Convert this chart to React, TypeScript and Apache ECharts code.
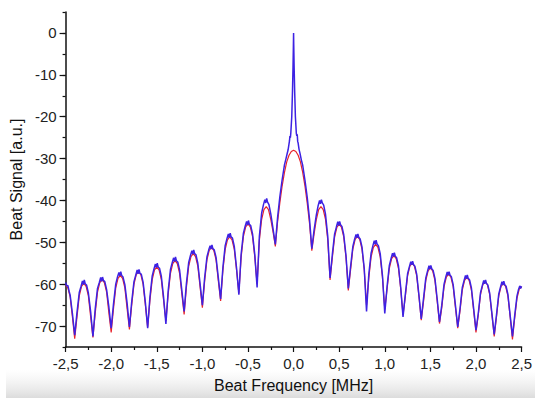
import React, { useEffect, useRef } from "react";
import * as echarts from "echarts";

// Fitted (red) curve: [frequency MHz, signal a.u.]
const fitTrace: [number, number][] = [
  [-2.5, -60.2], [-2.475, -60.9], [-2.45, -63.0], [-2.425, -67.8], [-2.4, -73.0],
  [-2.375, -67.8], [-2.35, -62.8], [-2.325, -60.5], [-2.3, -59.8], [-2.275, -60.5], [-2.25, -62.8], [-2.225, -67.8], [-2.2, -72.7],
  [-2.175, -66.9], [-2.15, -61.9], [-2.125, -59.6], [-2.1, -58.9], [-2.075, -59.6], [-2.05, -61.9], [-2.025, -66.9], [-2.0, -71.5],
  [-1.975, -65.9], [-1.95, -60.9], [-1.925, -58.6], [-1.9, -57.9], [-1.875, -58.6], [-1.85, -60.9], [-1.825, -65.9], [-1.8, -70.8],
  [-1.775, -65.0], [-1.75, -60.0], [-1.725, -57.7], [-1.7, -57.0], [-1.675, -57.7], [-1.65, -60.0], [-1.625, -65.0], [-1.6, -70.3],
  [-1.575, -63.9], [-1.55, -58.9], [-1.525, -56.6], [-1.5, -55.9], [-1.475, -56.6], [-1.45, -58.9], [-1.425, -63.9], [-1.4, -68.8],
  [-1.375, -62.4], [-1.35, -57.4], [-1.325, -55.1], [-1.3, -54.4], [-1.275, -55.1], [-1.25, -57.4], [-1.225, -62.4], [-1.2, -67.2],
  [-1.175, -60.7], [-1.15, -55.7], [-1.125, -53.4], [-1.1, -52.7], [-1.075, -53.4], [-1.05, -55.7], [-1.025, -60.7], [-1.0, -65.6],
  [-0.975, -59.2], [-0.95, -54.2], [-0.925, -51.9], [-0.9, -51.2], [-0.875, -51.9], [-0.85, -54.2], [-0.825, -59.2], [-0.8, -64.0],
  [-0.775, -56.7], [-0.75, -51.7], [-0.725, -49.4], [-0.7, -48.7], [-0.675, -49.4], [-0.65, -51.7], [-0.625, -56.7], [-0.6, -62.2],
  [-0.575, -53.6], [-0.55, -48.6], [-0.525, -46.3], [-0.5, -45.6], [-0.475, -46.3], [-0.45, -48.6], [-0.425, -53.6], [-0.4, -60.0],
  [-0.375, -49.5], [-0.35, -44.5], [-0.325, -42.2], [-0.3, -41.5], [-0.275, -42.2], [-0.25, -44.5], [-0.225, -47.5], [-0.2, -51.0],
  [-0.175, -45.0], [-0.15, -40.5], [-0.125, -36.5], [-0.1, -33.3], [-0.075, -30.8], [-0.05, -29.2], [-0.025, -28.3], [0, -28.0],
  [0.025, -28.3], [0.05, -29.2], [0.075, -30.8], [0.1, -33.3], [0.125, -36.6], [0.15, -40.7], [0.175, -45.5], [0.2, -52.0],
  [0.225, -48.0], [0.25, -44.5], [0.275, -42.2], [0.3, -41.5], [0.325, -42.2], [0.35, -44.5], [0.375, -49.5], [0.4, -59.0],
  [0.425, -53.7], [0.45, -48.7], [0.475, -46.4], [0.5, -45.7], [0.525, -46.4], [0.55, -48.7], [0.575, -53.7], [0.6, -61.5],
  [0.625, -56.6], [0.65, -51.6], [0.675, -49.3], [0.7, -48.6], [0.725, -49.3], [0.75, -51.6], [0.775, -56.6], [0.8, -65.0],
  [0.825, -58.5], [0.85, -53.5], [0.875, -51.2], [0.9, -50.5], [0.925, -51.2], [0.95, -53.5], [0.975, -58.5], [1.0, -66.0],
  [1.025, -61.2], [1.05, -56.2], [1.075, -53.9], [1.1, -53.2], [1.125, -53.9], [1.15, -56.2], [1.175, -61.2], [1.2, -67.4],
  [1.225, -63.0], [1.25, -58.0], [1.275, -55.7], [1.3, -55.0], [1.325, -55.7], [1.35, -58.0], [1.375, -63.0], [1.4, -68.6],
  [1.425, -64.1], [1.45, -59.1], [1.475, -56.8], [1.5, -56.1], [1.525, -56.8], [1.55, -59.1], [1.575, -64.1], [1.6, -69.4],
  [1.625, -65.6], [1.65, -60.6], [1.675, -58.3], [1.7, -57.6], [1.725, -58.3], [1.75, -60.6], [1.775, -65.6], [1.8, -70.5],
  [1.825, -66.4], [1.85, -61.4], [1.875, -59.1], [1.9, -58.4], [1.925, -59.1], [1.95, -61.4], [1.975, -66.4], [2.0, -71.5],
  [2.025, -67.4], [2.05, -62.4], [2.075, -60.1], [2.1, -59.4], [2.125, -60.1], [2.15, -62.4], [2.175, -67.4], [2.2, -72.5],
  [2.225, -67.8], [2.25, -62.8], [2.275, -60.5], [2.3, -59.8], [2.325, -60.5], [2.35, -62.8], [2.375, -67.8], [2.4, -73.2],
  [2.425, -68.0], [2.45, -63.3], [2.475, -61.1], [2.5, -60.6],
];

// Measured (blue) beat signal: [frequency MHz, signal a.u.]
const measuredTrace: [number, number][] = [
  [-2.5, -59.6], [-2.49, -60.4], [-2.475, -60.3], [-2.46, -61.8], [-2.45, -62.6], [-2.425, -67.0], [-2.4, -72.2],
  [-2.375, -66.8], [-2.35, -62.0], [-2.33, -60.5], [-2.315, -59.2], [-2.305, -60.1], [-2.295, -59.0], [-2.285, -59.9], [-2.27, -60.2], [-2.25, -62.1], [-2.225, -66.6], [-2.2, -72.5],
  [-2.175, -65.9], [-2.15, -61.0], [-2.13, -59.6], [-2.115, -58.4], [-2.105, -59.3], [-2.095, -58.3], [-2.085, -59.1], [-2.07, -59.4], [-2.05, -61.3], [-2.025, -65.5], [-2.0, -70.5],
  [-1.975, -64.8], [-1.95, -60.0], [-1.93, -58.2], [-1.915, -57.2], [-1.905, -58.0], [-1.895, -57.0], [-1.885, -57.9], [-1.87, -58.3], [-1.85, -60.1], [-1.825, -64.6], [-1.8, -70.2],
  [-1.775, -64.2], [-1.75, -59.4], [-1.73, -57.8], [-1.715, -56.6], [-1.705, -57.5], [-1.695, -56.5], [-1.685, -57.4], [-1.67, -57.6], [-1.65, -59.5], [-1.625, -64.4], [-1.6, -70.5],
  [-1.575, -63.0], [-1.55, -58.0], [-1.53, -56.3], [-1.515, -55.2], [-1.505, -56.0], [-1.495, -55.0], [-1.485, -55.9], [-1.47, -56.2], [-1.45, -58.1], [-1.425, -63.2], [-1.4, -69.5],
  [-1.375, -61.6], [-1.35, -56.5], [-1.33, -54.8], [-1.315, -53.7], [-1.305, -54.6], [-1.295, -53.5], [-1.285, -54.4], [-1.27, -54.7], [-1.25, -56.6], [-1.225, -61.5], [-1.2, -66.5],
  [-1.175, -59.8], [-1.15, -54.8], [-1.13, -53.1], [-1.115, -52.0], [-1.105, -52.8], [-1.095, -51.8], [-1.085, -52.7], [-1.07, -53.0], [-1.05, -55.0], [-1.025, -59.9], [-1.0, -65.0],
  [-0.975, -58.4], [-0.95, -53.5], [-0.93, -51.8], [-0.915, -50.8], [-0.905, -51.6], [-0.895, -50.6], [-0.885, -51.5], [-0.87, -51.8], [-0.85, -53.6], [-0.825, -58.5], [-0.8, -63.5],
  [-0.775, -56.0], [-0.75, -50.8], [-0.73, -49.1], [-0.715, -48.0], [-0.705, -48.9], [-0.695, -47.8], [-0.685, -48.7], [-0.67, -49.0], [-0.65, -51.0], [-0.625, -56.2], [-0.6, -62.5],
  [-0.575, -52.8], [-0.55, -47.8], [-0.53, -46.1], [-0.515, -45.0], [-0.505, -45.9], [-0.495, -44.8], [-0.485, -45.7], [-0.47, -46.0], [-0.45, -48.0], [-0.425, -53.0], [-0.4, -60.8],
  [-0.375, -48.5], [-0.35, -43.0], [-0.33, -41.0], [-0.315, -39.8], [-0.305, -40.6], [-0.295, -39.5], [-0.285, -40.4], [-0.27, -41.0], [-0.25, -43.2], [-0.225, -46.8], [-0.2, -50.5],
  [-0.175, -44.0], [-0.15, -39.0], [-0.125, -35.0], [-0.1, -31.5], [-0.085, -30.2], [-0.07, -28.8], [-0.06, -27.9], [-0.05, -26.5], [-0.045, -25.8], [-0.04, -24.6], [-0.035, -25.0], [-0.03, -23.8],
  [-0.02, -20.0], [-0.012, -14.0], [-0.006, -8.0], [-0.002, -3.0], [0, 0], [0.002, -3.0], [0.006, -8.0], [0.012, -14.0], [0.02, -20.0],
  [0.03, -23.9], [0.035, -24.6], [0.04, -24.2], [0.045, -25.9], [0.05, -26.3], [0.06, -27.8], [0.07, -28.7], [0.085, -30.3], [0.1, -31.6], [0.125, -35.2], [0.15, -39.3], [0.175, -44.5], [0.2, -51.5],
  [0.225, -47.0], [0.25, -43.4], [0.27, -41.2], [0.285, -40.0], [0.295, -40.8], [0.305, -39.8], [0.315, -40.6], [0.33, -41.1], [0.35, -43.3], [0.375, -48.6], [0.4, -58.5],
  [0.425, -52.9], [0.45, -48.0], [0.47, -46.3], [0.485, -45.1], [0.495, -46.0], [0.505, -45.0], [0.515, -45.8], [0.53, -46.2], [0.55, -48.2], [0.575, -53.2], [0.6, -61.0],
  [0.625, -55.8], [0.65, -51.0], [0.67, -49.2], [0.685, -48.1], [0.695, -48.9], [0.705, -48.0], [0.715, -48.8], [0.73, -49.2], [0.75, -51.1], [0.775, -56.3], [0.8, -66.5],
  [0.825, -57.6], [0.85, -52.6], [0.87, -50.8], [0.885, -49.6], [0.895, -50.5], [0.905, -49.5], [0.915, -50.4], [0.93, -50.8], [0.95, -52.7], [0.975, -58.0], [1.0, -67.0],
  [1.025, -60.6], [1.05, -55.5], [1.07, -53.8], [1.085, -52.6], [1.095, -53.4], [1.105, -52.5], [1.115, -53.3], [1.13, -53.7], [1.15, -55.6], [1.175, -60.8], [1.2, -67.8],
  [1.225, -62.5], [1.25, -57.5], [1.27, -55.8], [1.285, -54.6], [1.295, -55.4], [1.305, -54.5], [1.315, -55.3], [1.33, -55.7], [1.35, -57.6], [1.375, -62.7], [1.4, -68.3],
  [1.425, -63.4], [1.45, -58.5], [1.47, -56.8], [1.485, -55.6], [1.495, -56.4], [1.505, -55.5], [1.515, -56.3], [1.53, -56.7], [1.55, -58.6], [1.575, -63.6], [1.6, -69.0],
  [1.625, -65.0], [1.65, -60.0], [1.67, -58.2], [1.685, -57.1], [1.695, -57.9], [1.705, -57.0], [1.715, -57.8], [1.73, -58.2], [1.75, -60.1], [1.775, -65.1], [1.8, -70.2],
  [1.825, -65.8], [1.85, -60.8], [1.87, -59.1], [1.885, -57.9], [1.895, -58.7], [1.905, -57.8], [1.915, -58.6], [1.93, -59.0], [1.95, -60.9], [1.975, -65.9], [2.0, -71.0],
  [2.025, -67.0], [2.05, -62.0], [2.07, -60.3], [2.085, -59.1], [2.095, -59.9], [2.105, -59.0], [2.115, -59.8], [2.13, -60.2], [2.15, -62.1], [2.175, -67.0], [2.2, -72.0],
  [2.225, -67.3], [2.25, -62.3], [2.27, -60.6], [2.285, -59.4], [2.295, -60.2], [2.305, -59.3], [2.315, -60.1], [2.33, -60.5], [2.35, -62.4], [2.375, -67.5], [2.4, -72.5],
  [2.425, -67.4], [2.45, -62.8], [2.465, -61.4], [2.48, -60.4], [2.49, -61.0], [2.5, -60.5],
];

const yMajorTicks = [0, -10, -20, -30, -40, -50, -60, -70];
const xTitle = "Beat Frequency [MHz]";
const yTitle = "Beat Signal [a.u.]";

const FONT = "'Liberation Sans', Arial, sans-serif";

export default function App() {
  const ref = useRef<HTMLDivElement>(null);
  useEffect(() => {
    if (!ref.current) return;
    const chart = echarts.init(ref.current, null, { renderer: "svg" });
    const axisColor = "#111";
    chart.setOption({
      animation: false,
      backgroundColor: "#ffffff",
      graphic: [
        {
          type: "rect",
          z: -10,
          silent: true,
          shape: { x: 6, y: 370, width: 529, height: 28 },
          style: {
            fill: new echarts.graphic.LinearGradient(0, 0, 0, 1, [
              { offset: 0, color: "rgba(235,235,235,0)" },
              { offset: 1, color: "#dcdcdc" },
            ]),
          },
        },
      ],
      grid: { left: 62, right: 11, top: 12, bottom: 46, containLabel: false },
      xAxis: {
        type: "value",
        min: -2.5,
        max: 2.5,
        interval: 0.5,
        name: xTitle,
        nameLocation: "middle",
        nameGap: 30,
        nameTextStyle: { fontFamily: FONT, fontSize: 16, color: axisColor },
        axisLine: { show: true, onZero: false, lineStyle: { color: axisColor, width: 1.5 } },
        axisTick: { show: true, inside: false, length: 5, lineStyle: { color: axisColor, width: 1.2 } },
        minorTick: { show: true, splitNumber: 2, length: 3, lineStyle: { color: axisColor, width: 1.2 } },
        splitLine: { show: false },
        axisLabel: {
          margin: 9,
          fontFamily: FONT,
          fontSize: 15,
          color: "#222",
          formatter: (v: number) => v.toFixed(1).replace(".", ","),
        },
      },
      yAxis: [
        {
          type: "value",
          min: -75,
          max: 5,
          interval: 5,
          name: yTitle,
          nameLocation: "middle",
          nameGap: 33,
          nameRotate: 90,
          nameTextStyle: { fontFamily: FONT, fontSize: 16, color: axisColor },
          axisLine: { show: true, onZero: false, lineStyle: { color: axisColor, width: 1.5 } },
          axisTick: { show: true, inside: false, length: 3, lineStyle: { color: axisColor, width: 1.2 } },
          splitLine: { show: false },
          axisLabel: {
            margin: 9,
            fontFamily: FONT,
            fontSize: 15,
            color: "#222",
            formatter: (v: number) => (yMajorTicks.indexOf(v) >= 0 ? String(v) : ""),
          },
        },
        {
          type: "value",
          min: -75,
          max: 5,
          position: "left",
          offset: 0,
          axisLine: { show: false, onZero: false },
          axisTick: {
            show: true,
            inside: false,
            length: 6,
            customValues: yMajorTicks,
            lineStyle: { color: axisColor, width: 1.2 },
          },
          axisLabel: { show: false },
          splitLine: { show: false },
        },
      ],
      series: [
        {
          type: "line",
          name: "fit",
          data: fitTrace,
          showSymbol: false,
          symbol: "none",
          smooth: false,
          lineStyle: { color: "#e8232b", width: 1.2 },
          silent: true,
          z: 2,
        },
        {
          type: "line",
          name: "measured",
          data: measuredTrace,
          showSymbol: false,
          symbol: "none",
          smooth: false,
          lineStyle: { color: "#3d22e3", width: 1.5 },
          silent: true,
          z: 3,
        },
      ],
    });
    return () => chart.dispose();
  }, []);
  return (
    <div
      ref={ref}
      style={{ position: "fixed", left: 0, top: 0, width: 535, height: 398, background: "#fff" }}
    />
  );
}
